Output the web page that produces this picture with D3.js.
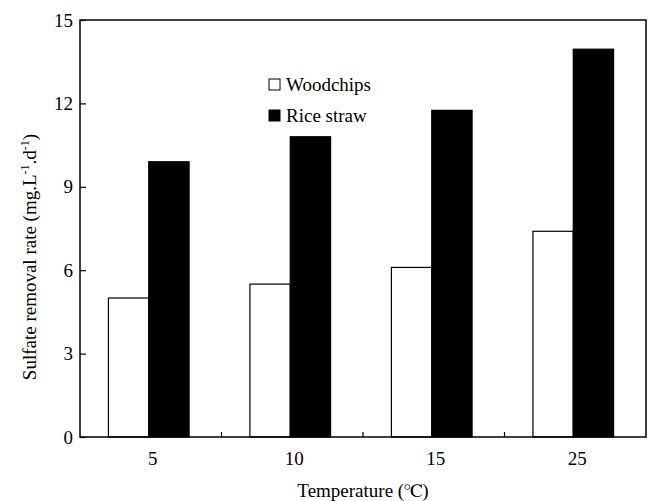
<!DOCTYPE html>
<html>
<head>
<meta charset="utf-8">
<script src="https://cdn.jsdelivr.net/npm/d3@7"></script>
<style>
  body { margin: 0; background: #fff; }
</style>
</head>
<body>
<svg></svg>
<script>
// data
const temperatures = ['5', '10', '15', '25'];
const seriesNames = ['Woodchips', 'Rice straw'];
const woodchips = [5.0, 5.5, 6.1, 7.4];
const riceStraw = [9.9, 10.8, 11.75, 13.95];
const yTicks = [0, 3, 6, 9, 12, 15];

const size = {w: 648, h: 501};
const plot = {l: 80, r: 646, t: 20, b: 437};
const serif = "Times New Roman, Times, Liberation Serif, Tinos, Nimbus Roman, FreeSerif, Noto Serif, DejaVu Serif, serif";
const svg = d3.select('svg').attr('width', size.w).attr('height', size.h)
    .attr('font-family', serif);

const fills = {'Woodchips': '#fff', 'Rice straw': '#000'};
const rows = temperatures.map((t, i) => ({t: t, 'Woodchips': woodchips[i], 'Rice straw': riceStraw[i]}));

// scales
const pad = 0.43;
const x0 = d3.scaleBand().domain(temperatures).range([plot.l, plot.r])
    .paddingInner(pad).paddingOuter(pad / 2);
const x1 = d3.scaleBand().domain(seriesNames).range([0, x0.bandwidth()]);
const y = d3.scaleLinear().domain([0, 15]).range([plot.b, plot.t]);

// bars
const groups = svg.append('g').selectAll('g')
    .data(rows)
    .join('g')
    .attr('transform', d => 'translate(' + (x0(d.t) - 2) + ',0)');

groups.selectAll('rect')
    .data(d => seriesNames.map(k => ({key: k, value: d[k]})))
    .join('rect')
    .attr('x', d => x1(d.key))
    .attr('y', d => y(d.value))
    .attr('width', x1.bandwidth())
    .attr('height', d => y(0) - y(d.value))
    .attr('fill', d => fills[d.key])
    .attr('stroke', '#000')
    .attr('stroke-width', 1.2);

// y axis, ticks pointing inward
const yAxis = svg.append('g')
    .attr('transform', 'translate(' + plot.l + ',0)')
    .call(d3.axisLeft(y).tickValues(yTicks).tickSize(-6).tickPadding(7));
yAxis.attr('font-family', serif).attr('font-size', 19);
yAxis.select('.domain').remove();
yAxis.selectAll('line').attr('stroke', '#000').attr('stroke-width', 1.2);

// x axis labels at category centres
const xAxis = svg.append('g')
    .attr('transform', 'translate(2,' + plot.b + ')')
    .call(d3.axisBottom(x0).tickSize(0).tickPadding(15));
xAxis.attr('font-family', serif).attr('font-size', 19);
xAxis.select('.domain').remove();

// x ticks between categories, pointing up
const boundaries = temperatures.slice(1).map(t => x0(t) - x0.step() * pad / 2);
svg.append('g').selectAll('line')
    .data(boundaries)
    .join('line')
    .attr('x1', d => d).attr('x2', d => d)
    .attr('y1', plot.b).attr('y2', plot.b - 5)
    .attr('stroke', '#000').attr('stroke-width', 1.2);

// frame
svg.append('rect')
    .attr('x', plot.l).attr('y', plot.t)
    .attr('width', plot.r - plot.l).attr('height', plot.b - plot.t)
    .attr('fill', 'none').attr('stroke', '#000').attr('stroke-width', 1.5);

// axis titles
svg.append('text')
    .attr('x', (plot.l + plot.r) / 2)
    .attr('y', 497)
    .attr('text-anchor', 'middle')
    .attr('font-size', 19)
    .text('Temperature (℃)');

const yTitle = svg.append('text')
    .attr('transform', 'translate(36,257) rotate(-90)')
    .attr('text-anchor', 'middle')
    .attr('font-size', 19);
yTitle.append('tspan').text('Sulfate removal rate (mg.L');
yTitle.append('tspan').attr('baseline-shift', 'super').attr('font-size', 12).text('-1');
yTitle.append('tspan').text('.d');
yTitle.append('tspan').attr('baseline-shift', 'super').attr('font-size', 12).text('-1');
yTitle.append('tspan').text(')');

// legend
const legend = svg.append('g').selectAll('g')
    .data(seriesNames)
    .join('g')
    .attr('transform', (d, i) => 'translate(269,' + (79 + i * 31) + ')');
legend.append('rect')
    .attr('width', 11).attr('height', 11)
    .attr('fill', d => fills[d])
    .attr('stroke', '#000').attr('stroke-width', 1);
legend.append('text')
    .attr('x', 17).attr('y', 12)
    .attr('font-size', 19)
    .text(d => d);
</script>
</body>
</html>
